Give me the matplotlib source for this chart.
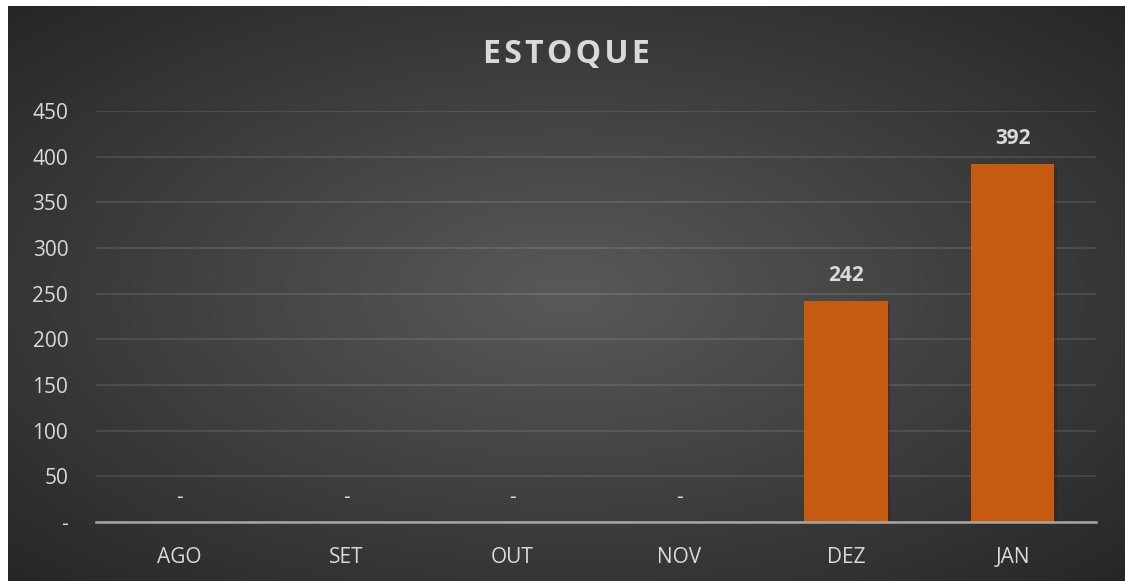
import numpy as np
import matplotlib
matplotlib.use("Agg")
import matplotlib.pyplot as plt
import matplotlib.patheffects as pe

# data
months = ["AGO", "SET", "OUT", "NOV", "DEZ", "JAN"]
estoque = [0, 0, 0, 0, 242, 392]
yticks = [0, 50, 100, 150, 200, 250, 300, 350, 400, 450]

plt.rcParams["font.family"] = ["Open Sans", "DejaVu Sans"]
txt = "#D9D9D9"

W, H = 1125, 581
fig = plt.figure(figsize=(W / 100, H / 100), dpi=100, facecolor="white")

# dark radial background, white strip on top/left like the screenshot
bg = fig.add_axes([8 / W, 0, (W - 8) / W, (H - 6) / H])
yy, xx = np.mgrid[0:300, 0:600]
r = np.sqrt(((xx - 300) / 300) ** 2 + ((yy - 150) / 150) ** 2) / np.sqrt(2)
shade = 0.35 - 0.2 * r
img = np.dstack([shade, shade, shade])
bg.imshow(img, aspect="auto", extent=[0, 1, 0, 1], interpolation="bilinear")
bg.set_axis_off()

ax = fig.add_axes([96 / W, 59 / H, 1000 / W, 411 / H])
ax.patch.set_alpha(0)
x = np.arange(len(months))
bars = ax.bar(x, estoque, width=0.5, color="#C55A11", zorder=3,
              path_effects=[pe.SimplePatchShadow(offset=(2, -2), alpha=0.35), pe.Normal()])

ax.set_xlim(-0.5, len(months) - 0.5)
ax.set_ylim(0, 450)
ax.set_yticks(yticks)
ax.set_yticklabels(["-" if v == 0 else str(v) for v in yticks])
ax.set_xticks(x)
ax.set_xticklabels(months)
ax.tick_params(axis="both", length=0, colors=txt, labelsize=15)
ax.tick_params(axis="y", pad=20)
ax.tick_params(axis="x", pad=18)

ax.grid(axis="y", color="white", alpha=0.12, linewidth=1.2, zorder=0)
for s in ["top", "right", "left"]:
    ax.spines[s].set_visible(False)
ax.spines["bottom"].set_color("#A6A6A6")
ax.spines["bottom"].set_linewidth(1.8)
ax.spines["bottom"].set_zorder(4)

for xi, v in zip(x, estoque):
    ax.annotate("-" if v == 0 else str(v), (xi, v), xytext=(0, 18), textcoords="offset points",
                ha="center", va="center", color=txt, fontsize=15,
                fontweight="normal" if v == 0 else "bold")

fig.text(566 / W, 1 - 55 / H, "\u200a".join("ESTOQUE"), ha="center", va="center",
         color=txt, fontsize=23, fontweight="bold")

fig.savefig("out.png", dpi=100)
